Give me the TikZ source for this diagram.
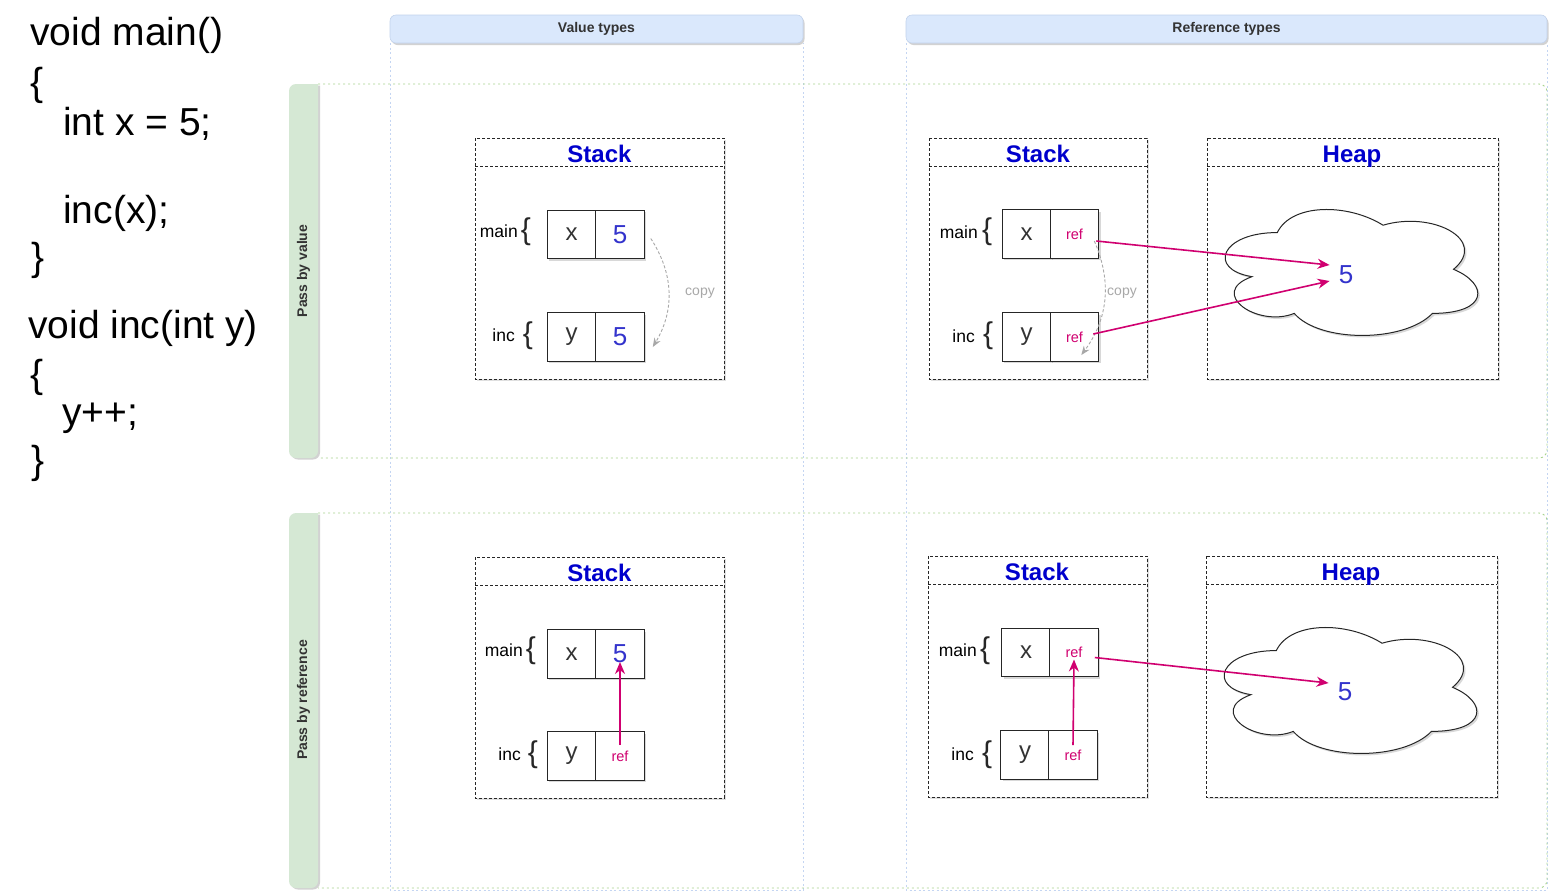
\documentclass[tikz,border=0pt]{standalone}
\usepackage{fontspec}
\setmainfont{Liberation Sans}
\usetikzlibrary{shadows,arrows.meta}
\newcommand\myfs[1]{\fontsize{#1}{#1}\selectfont}
\definecolor{hdrblue}{HTML}{DAE8FC}
\definecolor{hdrline}{HTML}{C3D3EC}
\definecolor{colline}{HTML}{C4D5F2}
\definecolor{hdrgreen}{HTML}{D5E8D4}
\definecolor{rowline}{HTML}{A8D48E}
\definecolor{stackblue}{HTML}{0000CC}
\definecolor{valblue}{HTML}{3333CC}
\definecolor{refpink}{HTML}{D00070}
\definecolor{copygray}{HTML}{A8A8A8}
\definecolor{txtgray}{HTML}{333333}
\newcommand\mycloudpath{(.25,.25) .. controls (.05,.25) and (0,.5) .. (.16,.55)
  .. controls (0,.66) and (.18,.9) .. (.31,.8)
  .. controls (.4,1) and (.7,1) .. (.8,.8)
  .. controls (1,.8) and (1,.6) .. (.875,.5)
  .. controls (1,.3) and (.8,.1) .. (.625,.2)
  .. controls (.5,.05) and (.3,.05) .. (.25,.25) -- cycle}
\begin{document}
\begin{tikzpicture}[x=1pt,y=-1pt,
  codetxt/.style={anchor=base west, inner sep=0pt, font=\myfs{39}},
  colhdr/.style={fill=hdrblue, draw=hdrline, line width=0.6pt, rounded corners=6pt,
    drop shadow={opacity=0.35, shadow xshift=1.5pt, shadow yshift=-2pt}},
  colbody/.style={draw=colline, dash pattern=on 2pt off 2.5pt, line width=0.9pt},
  colhdrtxt/.style={font=\bfseries\myfs{14}, text=txtgray},
  rowhdr/.style={fill=hdrgreen, draw=none,
    drop shadow={opacity=0.35, shadow xshift=2pt, shadow yshift=-1.5pt}},
  rowbody/.style={draw=rowline, dash pattern=on 2pt off 3pt, line width=0.9pt, rounded corners=8pt},
  rowhdrtxt/.style={font=\bfseries\myfs{14}, rotate=90, text=txtgray},
  stackbox/.style={draw=black!85, line width=0.9pt, dash pattern=on 3pt off 2pt, fill=white,
    drop shadow={opacity=0.25, shadow xshift=2pt, shadow yshift=-2pt}},
  stackline/.style={draw=black!85, line width=0.9pt, dash pattern=on 3pt off 2pt},
  stacktitle/.style={font=\bfseries\myfs{24}, text=stackblue, inner sep=0pt, anchor=base},
  cell/.style={draw=black!85, line width=1.1pt, minimum width=48.5pt, minimum height=48.5pt,
    inner sep=0pt, fill=white, drop shadow={opacity=0.3, shadow xshift=2pt, shadow yshift=-2pt}},
  namecell/.style={cell, font=\myfs{24}, text=txtgray},
  valcell/.style={cell, font=\myfs{26}, text=valblue},
  refcell/.style={cell, font=\myfs{14.5}, text=refpink},
  framelbl/.style={font=\myfs{17.5}, text=black, inner sep=0pt},
  bracelbl/.style={font=\myfs{30}, text=black!85, inner sep=0pt},
  copylbl/.style={font=\myfs{14}, text=copygray, inner sep=0pt},
  copyarrow/.style={draw=copygray, dash pattern=on 3pt off 2pt, line width=0.9pt,
    -{Stealth[length=9pt,width=7pt]}},
  refarrow/.style={draw=refpink, line width=1.6pt, -{Stealth[length=12pt,width=10pt]}},
  cloudbox/.style={inner sep=0pt, minimum width=282pt, minimum height=147pt},
  cloudpath/.style={draw=black!85, line width=1pt, fill=white,
    drop shadow={opacity=0.3, shadow xshift=2pt, shadow yshift=-2pt}},
  heapval/.style={font=\myfs{26}, text=valblue, inner sep=2pt}
]
\fill[white] (0,0) rectangle (1557,895);
\useasboundingbox (0,0) rectangle (1557,895);

% ---------- code ----------
\node[codetxt] (c1) at (30,45) {void main()};
\node[codetxt] (c2) at (30,95) {\{};
\node[codetxt] (c3) at (63,135) {int x = 5;};
\node[codetxt] (c4) at (63,223) {inc(x);};
\node[codetxt] (c5) at (31,270) {\}};
\node[codetxt] (c6) at (28,338) {void inc(int y)};
\node[codetxt] (c7) at (30,387) {\{};
\node[codetxt] (c8) at (62,425) {y++;};
\node[codetxt] (c9) at (31,473) {\}};

% ---------- columns ----------
\draw[colbody] (390,43) -- (390,890) -- (803,890) -- (803,43);
\draw[colbody] (906,43) -- (906,890) -- (1547,890) -- (1547,43);
\draw[colhdr] (390,15) rectangle (803,43);
\node[colhdrtxt] (vt) at (596.5,29) {Value types};
\draw[colhdr] (906,15) rectangle (1547,43);
\node[colhdrtxt] (rt) at (1226.5,29) {Reference types};

% ---------- rows ----------
\draw[rowbody] (318,84) -- (1547,84) -- (1547,458) -- (318,458);
\path[rowhdr] (318,84) [rounded corners=7pt] -- (289,84) -- (289,458) -- (318,458) [sharp corners] -- cycle;
\node[rowhdrtxt] (pv) at (303.5,271) {Pass by value};
\draw[rowbody] (318,513) -- (1547,513) -- (1547,888) -- (318,888);
\path[rowhdr] (318,513) [rounded corners=7pt] -- (289,513) -- (289,888) -- (318,888) [sharp corners] -- cycle;
\node[rowhdrtxt] (pr) at (303.5,700) {Pass by reference};

% ---------- top-left: value type, pass by value ----------
\draw[stackbox] (475,138) rectangle (724,379);
\draw[stackline] (475,166) -- (724,166);
\node[stacktitle] (s1) at (599.5,162) {Stack};
\node[framelbl, anchor=east] (m1) at (518,231) {main};
\node[bracelbl] (mb1) at (526,232) {\{};
\node[framelbl, anchor=east] (i1) at (515,335) {inc};
\node[bracelbl] (ib1) at (528,336) {\{};
\node[namecell] (a1x) at (571.5,234.5) {x};
\node[valcell] (a1v) at (620,234.5) {5};
\node[namecell] (a2y) at (571.5,337) {y};
\node[valcell] (a2v) at (620,337) {5};
\draw[copyarrow] ([xshift=6pt,yshift=-4pt]a1v.east) to[bend left=32] ([xshift=8pt,yshift=-10pt]a2v.east);
\node[copylbl] (cp1) at (700,293) {copy};

% ---------- top-right: reference type, pass by value ----------
\draw[stackbox] (929,138) rectangle (1147,379);
\draw[stackline] (929,166) -- (1147,166);
\node[stacktitle] (s2) at (1038,162) {Stack};
\draw[stackbox] (1207,138) rectangle (1498,379);
\draw[stackline] (1207,166) -- (1498,166);
\node[stacktitle] (hp1) at (1352,162) {Heap};
\node[framelbl, anchor=east] (m2) at (978,232) {main};
\node[bracelbl] (mb2) at (987,232) {\{};
\node[framelbl, anchor=east] (i2) at (975,336) {inc};
\node[bracelbl] (ib2) at (988,336) {\{};
\node[namecell] (b1x) at (1026.5,234) {x};
\node[refcell] (b1r) at (1074.5,234) {ref};
\node[namecell] (b2y) at (1026.5,337) {y};
\node[refcell] (b2r) at (1074.5,337) {ref};
\node[cloudbox] (cl1) at (1348,269.5) {};
\begin{scope}[shift={(cl1.north west)}, x=282pt, y=-147pt]
  \path[cloudpath] \mycloudpath;
\end{scope}
\node[heapval] (h1) at (1346,275) {5};
\draw[copyarrow] ([xshift=-5pt,yshift=-7pt]b1r.east) to[bend left=30] ([xshift=-18pt,yshift=-18pt]b2r.east);
\node[copylbl] (cp2) at (1122,293) {copy};
\draw[refarrow] ([xshift=-3pt,yshift=-7pt]b1r.east) -- ([xshift=-7pt,yshift=10pt]h1.west);
\draw[refarrow] ([xshift=-6pt,yshift=3pt]b2r.east) -- ([xshift=-7pt,yshift=-6pt]h1.west);

% ---------- bottom-left: value type, pass by reference ----------
\draw[stackbox] (475,557) rectangle (724,798);
\draw[stackline] (475,585) -- (724,585);
\node[stacktitle] (s3) at (599.5,581) {Stack};
\node[framelbl, anchor=east] (m3) at (523,650) {main};
\node[bracelbl] (mb3) at (531,651) {\{};
\node[framelbl, anchor=east] (i3) at (521,754) {inc};
\node[bracelbl] (ib3) at (533,755) {\{};
\node[namecell] (e1x) at (571.5,654) {x};
\node[valcell] (e1v) at (620,654) {5};
\node[namecell] (e2y) at (571.5,756) {y};
\node[refcell] (e2r) at (620,756) {ref};
\draw[refarrow] ([yshift=11pt]e2r.center) -- ([yshift=-8pt]e1v.center);

% ---------- bottom-right: reference type, pass by reference ----------
\draw[stackbox] (928,556) rectangle (1147,797);
\draw[stackline] (928,584) -- (1147,584);
\node[stacktitle] (s4) at (1037,580) {Stack};
\draw[stackbox] (1206,556) rectangle (1497,797);
\draw[stackline] (1206,584) -- (1497,584);
\node[stacktitle] (hp2) at (1351,580) {Heap};
\node[framelbl, anchor=east] (m4) at (977,650) {main};
\node[bracelbl] (mb4) at (985,651) {\{};
\node[framelbl, anchor=east] (i4) at (974,754) {inc};
\node[bracelbl] (ib4) at (987,755) {\{};
\node[namecell] (d1x) at (1026,652.5) {x};
\node[refcell] (d1r) at (1074,652.5) {ref};
\node[namecell] (d2y) at (1025,755) {y};
\node[refcell] (d2r) at (1073,755) {ref};
\node[cloudbox] (cl2) at (1347,687.5) {};
\begin{scope}[shift={(cl2.north west)}, x=282pt, y=-147pt]
  \path[cloudpath] \mycloudpath;
\end{scope}
\node[heapval] (h2) at (1345,692) {5};
\draw[refarrow] ([yshift=10pt]d2r.center) -- ([yshift=-7pt]d1r.center);
\draw[refarrow] ([xshift=-4pt,yshift=-5pt]d1r.east) -- ([xshift=-7pt,yshift=9pt]h2.west);
\end{tikzpicture}
\end{document}
